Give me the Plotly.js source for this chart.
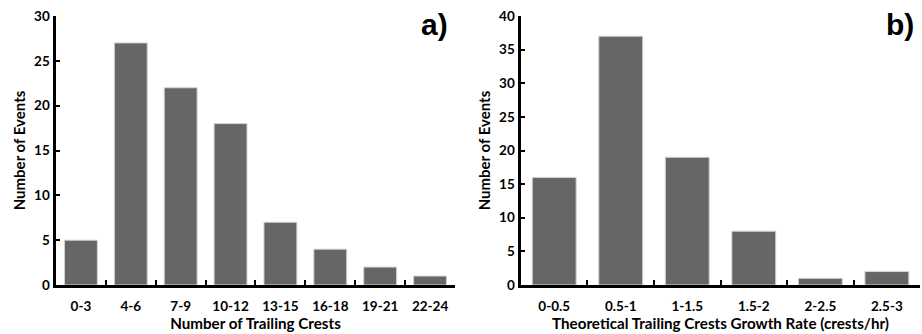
<!DOCTYPE html>
<html><head><meta charset="utf-8">
<script src="https://cdn.plot.ly/plotly-3.0.1.min.js"></script>
<style>body{margin:0;background:#fff}#c{width:922px;height:334px}</style>
</head><body><div id="c"></div>
<script>
const crestCats = ["0-3","4-6","7-9","10-12","13-15","16-18","19-21","22-24"];
const crestCounts = [5,27,22,18,7,4,2,1];
const rateCats = ["0-0.5","0.5-1","1-1.5","1.5-2","2-2.5","2.5-3"];
const rateCounts = [16,37,19,8,1,2];

const F = "Lato, 'Open Sans', sans-serif";
const barStyle = {color:"#666666", line:{color:"#d4d4d4", width:1}};
const traces = [
  {type:"bar", x:crestCats, y:crestCounts, xaxis:"x", yaxis:"y", marker:barStyle, hoverinfo:"x+y"},
  {type:"bar", x:rateCats, y:rateCounts, xaxis:"x2", yaxis:"y2", marker:barStyle, hoverinfo:"x+y"}
];
const xBase = {type:"category", showline:true, linecolor:"#000", linewidth:2.5, ticks:"inside", tickson:"boundaries",
  ticklen:5, tickwidth:2, tickcolor:"#000", showgrid:false, zeroline:false, ticklabelstandoff:7,
  tickfont:{family:F, size:13.5, color:"#000", weight:"bold"}};
const yBase = {showline:true, linecolor:"#000", linewidth:2.5, ticks:"inside", ticklen:4, tickwidth:2, tickcolor:"#000",
  showgrid:false, zeroline:false, dtick:5, ticklabelstandoff:1,
  tickfont:{family:F, size:13.5, color:"#000", weight:"bold"},
  title:{text:"Number of Events", font:{family:F, size:15, color:"#000", weight:"bold"}, standoff:5}};
const layout = {
  width:922, height:334, margin:{l:0,r:0,t:0,b:0}, showlegend:false, bargap:0.34,
  paper_bgcolor:"#fff", plot_bgcolor:"#fff",
  xaxis: Object.assign({}, xBase, {domain:[0.0607,0.4935], anchor:"y",
    title:{text:"Number of Trailing Crests", font:{family:F, size:15.2, color:"#000", weight:"bold"}, standoff:5}}),
  yaxis: Object.assign({}, yBase, {domain:[0.1467,0.952], anchor:"x", range:[0,30]}),
  xaxis2: Object.assign({}, xBase, {domain:[0.565,0.998], anchor:"y2",
    title:{text:"Theoretical Trailing Crests Growth Rate (crests/hr)", font:{family:F, size:15.2, color:"#000", weight:"bold"}, standoff:5}}),
  yaxis2: Object.assign({}, yBase, {domain:[0.1467,0.952], anchor:"x2", range:[0,40]}),
  annotations:[
    {text:"a)", xref:"paper", yref:"paper", x:434/922, y:1-24/334, xanchor:"center", yanchor:"middle", showarrow:false,
     font:{family:"Liberation Sans, Arial, sans-serif", size:30, color:"#000", weight:"bold"}},
    {text:"b)", xref:"paper", yref:"paper", x:900/922, y:1-24/334, xanchor:"center", yanchor:"middle", showarrow:false,
     font:{family:"Liberation Sans, Arial, sans-serif", size:30, color:"#000", weight:"bold"}}
  ]
};
Plotly.newPlot("c", traces, layout, {displayModeBar:false, staticPlot:true});
</script></body></html>
